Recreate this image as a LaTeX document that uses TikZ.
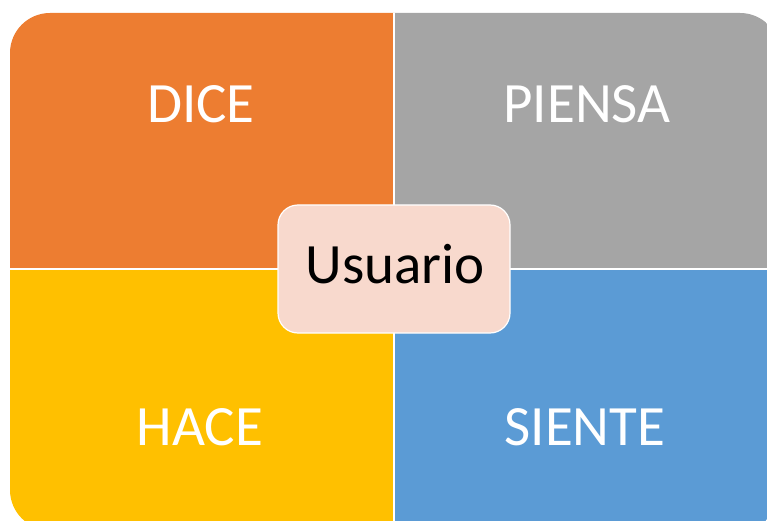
\documentclass[tikz,border=0pt]{standalone}
\usepackage{fontspec}
\setmainfont{Carlito}
\definecolor{qorange}{HTML}{ED7D31}
\definecolor{qgray}{HTML}{A5A5A5}
\definecolor{qyellow}{HTML}{FFC000}
\definecolor{qblue}{HTML}{5B9BD5}
\definecolor{qpeach}{HTML}{F8D9CD}
\tikzset{
  quadlabel/.style={anchor=base, text=white, inner sep=0pt, font=\fontsize{57}{68}\selectfont},
  centerlabel/.style={anchor=base, text=black, inner sep=0pt, font=\fontsize{57}{68}\selectfont},
  divider/.style={white, line width=1.2pt},
  centerbox/.style={fill=qpeach, draw=white, line width=1.2pt, rounded corners=20pt}
}
\begin{document}
\begin{tikzpicture}[x=1pt,y=-1pt]
\useasboundingbox (0,0) rectangle (767,521);
\begin{scope}
  \clip (0,0) rectangle (767,521);
  \begin{scope}
    \clip[rounded corners=40pt] (10,13) rectangle (780,530);
    \fill[qorange] (0,0) rectangle (394,269);
    \fill[qgray] (394,0) rectangle (790,269);
    \fill[qyellow] (0,269) rectangle (394,540);
    \fill[qblue] (394,269) rectangle (790,540);
    \draw[divider] (394,0) -- (394,540);
    \draw[divider] (0,269) -- (790,269);
  \end{scope}
  \draw[centerbox] (278,205) rectangle (510,333);
\end{scope}
\node[quadlabel] (dice) at (201,123) {DICE};
\node[quadlabel] (piensa) at (587,123) {PIENSA};
\node[quadlabel] (hace) at (200,445) {HACE};
\node[quadlabel] (siente) at (585,445) {SIENTE};
\node[centerlabel] (usuario) at (395,283) {Usuario};
\end{tikzpicture}
\end{document}
